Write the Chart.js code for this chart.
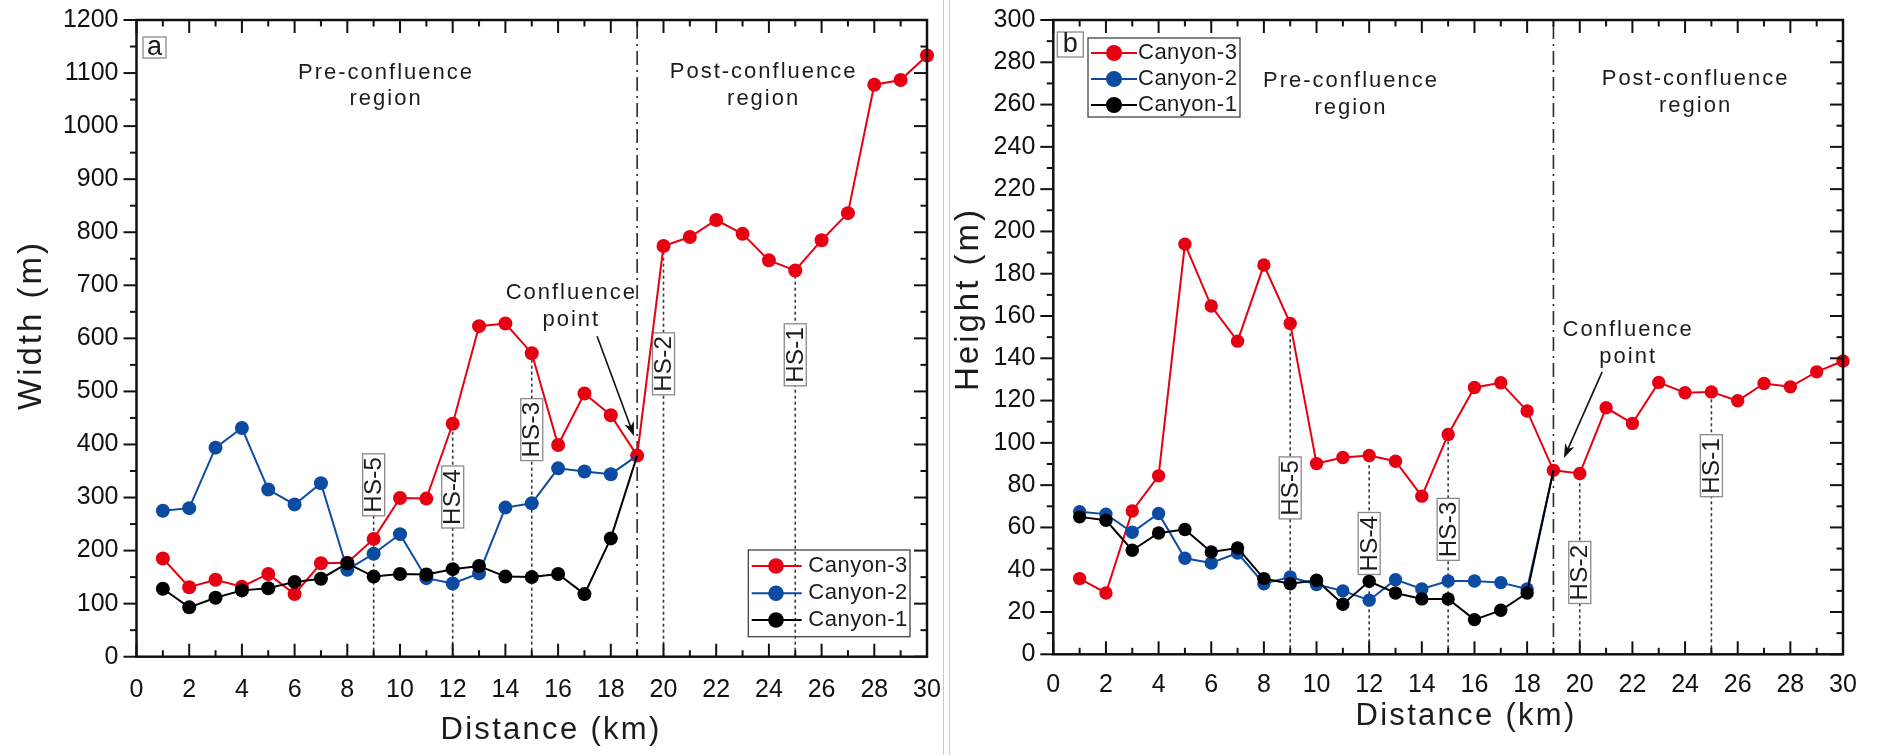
<!DOCTYPE html>
<html>
<head>
<meta charset="utf-8">
<script src="https://cdn.jsdelivr.net/npm/chart.js@4.4.1/dist/chart.umd.min.js"></script>
<style>
html, body { margin: 0; padding: 0; background: #fff; }
#wrap { position: relative; width: 1877px; height: 755px; overflow: hidden; }
#left { position: absolute; left: 0; top: 0; width: 940px; height: 755px; }
#right { position: absolute; left: 952px; top: 0; width: 925px; height: 755px; }
.sep { position: absolute; top: 0; width: 1px; height: 755px; background: #c9c9c9; }
</style>
</head>
<body>
<div id="wrap">
  <div id="left"><canvas id="chartA"></canvas></div>
  <div class="sep" style="left:943px"></div>
  <div class="sep" style="left:949px"></div>
  <div id="right"><canvas id="chartB"></canvas></div>
</div>
<script>
// distance along the canyons (km)
const distanceKm = [1,2,3,4,5,6,7,8,9,10,11,12,13,14,15,16,17,18,19,20,21,22,23,24,25,26,27,28,29,30];

// (a) width (m)
const widthCanyon3 = [185,131,145,132,156,118,176,177,222,299,298,439,623,628,572,399,496,455,379,774,791,823,797,747,728,785,836,1078,1087,1133];
const widthCanyon2 = [275,280,394,431,315,287,327,164,194,231,148,138,157,281,289,355,349,344,379];
const widthCanyon1 = [128,93,111,125,129,141,147,176,151,156,155,165,171,151,150,156,118,223,379];

// (b) height (m)
const heightCanyon3 = [35.8,29,67.8,84.4,194,164.7,148.1,184.1,156.5,90.2,93.1,94,91.3,74.8,104,126.2,128.4,115.1,87,85.5,116.6,109.2,128.6,123.7,124.1,119.9,128.1,126.5,133.6,138.7];
const heightCanyon2 = [67.4,66.3,57.7,66.6,45.4,43.2,47.9,33.4,36.6,33,30,25.6,35.3,30.9,34.7,34.7,33.9,30.9,87];
const heightCanyon1 = [65,63.4,49.2,57.4,59,48.4,50.3,35.8,33.4,35,23.7,34.5,29,26.2,26.2,16.4,20.8,29,87];

const seriesNames = ['Canyon-3', 'Canyon-2', 'Canyon-1'];
const seriesColors = ['#e60012', '#0b4ca2', '#000000'];

// cross sections and the confluence point
const sectionNames = ['HS-5', 'HS-4', 'HS-3', 'HS-2', 'HS-1'];
const sectionKm = [9, 12, 15, 20, 25];
const confluenceKm = 19;

const FONT = "'Liberation Sans', Arial, sans-serif";
const INK = '#1c1c1c';

function pts(vals) {
  return vals.map((v, i) => ({ x: distanceKm[i], y: v }));
}

function dataset(i, vals, r) {
  return {
    label: seriesNames[i],
    data: pts(vals),
    borderColor: seriesColors[i],
    backgroundColor: seriesColors[i],
    pointBackgroundColor: seriesColors[i],
    pointBorderColor: seriesColors[i],
    borderWidth: 2,
    pointBorderWidth: 0,
    // the tributaries end at the confluence point, which keeps only the red marker
    pointRadius: c => (i > 0 && c.dataIndex === vals.length - 1) ? 0 : r,
    pointHoverRadius: r,
    tension: 0,
    clip: false,
    order: 3 - i
  };
}

function text(ctx, s, x, y, size, spacing, align, rot) {
  ctx.save();
  ctx.font = size + 'px ' + FONT;
  ctx.letterSpacing = (spacing || 0) + 'px';
  ctx.fillStyle = INK;
  ctx.textAlign = align || 'center';
  ctx.textBaseline = 'middle';
  ctx.translate(x, y);
  if (rot) ctx.rotate(rot);
  ctx.fillText(s, 0, 0);
  ctx.restore();
}

function seg(ctx, x1, y1, x2, y2) {
  ctx.beginPath();
  ctx.moveTo(x1, y1);
  ctx.lineTo(x2, y2);
  ctx.stroke();
}

const decor = {
  id: 'decor',
  beforeDatasetsDraw(chart) {
    const o = chart.options.plugins.decor;
    const { ctx, chartArea: a, scales: { x, y } } = chart;
    ctx.save();
    // confluence line (dash-dot)
    const cx = x.getPixelForValue(confluenceKm);
    ctx.strokeStyle = '#2a2a2a';
    ctx.lineWidth = 1.6;
    ctx.setLineDash([14, 5, 2, 5]);
    seg(ctx, cx, a.top + 5, cx, a.bottom);
    // cross-section markers
    sectionKm.forEach((km, i) => {
      const px = x.getPixelForValue(km);
      const top = Math.max(o.main[km - 1], o.hsBox[i]);
      ctx.strokeStyle = '#383838';
      ctx.lineWidth = 1.6;
      ctx.setLineDash([3, 3]);
      seg(ctx, px, a.bottom, px, y.getPixelForValue(top));
      ctx.setLineDash([]);
      const cy = y.getPixelForValue(o.hsBox[i]);
      ctx.fillStyle = '#fff';
      ctx.strokeStyle = '#8a8a8a';
      ctx.lineWidth = 1.3;
      ctx.fillRect(px - 11, cy - 31, 22, 62);
      ctx.strokeRect(px - 11, cy - 31, 22, 62);
      text(ctx, sectionNames[i], px + 1, cy, 24, 0.3, 'center', -Math.PI / 2);
    });
    ctx.restore();
  },
  afterDraw(chart) {
    const o = chart.options.plugins.decor;
    const { ctx, chartArea: a, scales: { x, y } } = chart;
    ctx.save();
    ctx.strokeStyle = '#111';
    ctx.lineCap = 'butt';
    ctx.lineWidth = 2;
    // tick marks: left side outward, other sides inward
    for (let v = 0; v <= 30; v += 1) {
      const px = x.getPixelForValue(v);
      const len = v % 2 === 0 ? 13 : 6.5;
      seg(ctx, px, a.bottom, px, a.bottom - len);
      seg(ctx, px, a.top, px, a.top + len);
    }
    for (let v = 0; v <= o.yMax; v += o.yMinor) {
      const py = y.getPixelForValue(v);
      const len = v % o.yMajor === 0 ? 13 : 6.5;
      seg(ctx, a.left, py, a.left - len, py);
      seg(ctx, a.right, py, a.right - len, py);
    }
    ctx.lineWidth = 2.5;
    ctx.strokeRect(a.left, a.top, a.right - a.left, a.bottom - a.top);

    // region and confluence texts
    o.notes.forEach(n => {
      const px = x.getPixelForValue(n.x);
      const py = y.getPixelForValue(n.y);
      n.lines.forEach((s, k) => text(ctx, s, px, py + k * n.lh, 22, 2, 'center'));
    });

    // arrow
    const ax1 = x.getPixelForValue(o.arrow[0]), ay1 = y.getPixelForValue(o.arrow[1]);
    const ax2 = x.getPixelForValue(o.arrow[2]), ay2 = y.getPixelForValue(o.arrow[3]);
    const ang = Math.atan2(ay2 - ay1, ax2 - ax1);
    ctx.strokeStyle = '#111';
    ctx.fillStyle = '#111';
    ctx.lineWidth = 1.6;
    seg(ctx, ax1, ay1, ax2 - 8 * Math.cos(ang), ay2 - 8 * Math.sin(ang));
    ctx.beginPath();
    ctx.moveTo(ax2, ay2);
    ctx.lineTo(ax2 - 14 * Math.cos(ang) + 5 * Math.sin(ang), ay2 - 14 * Math.sin(ang) - 5 * Math.cos(ang));
    ctx.lineTo(ax2 - 10 * Math.cos(ang), ay2 - 10 * Math.sin(ang));
    ctx.lineTo(ax2 - 14 * Math.cos(ang) - 5 * Math.sin(ang), ay2 - 14 * Math.sin(ang) + 5 * Math.cos(ang));
    ctx.closePath();
    ctx.fill();

    // panel tag
    const t = o.tag;
    ctx.strokeStyle = '#8a8a8a';
    ctx.lineWidth = 1.3;
    ctx.strokeRect(a.left + t.dx, a.top + t.dy, t.w, t.h);
    text(ctx, t.s, a.left + t.dx + t.w / 2, a.top + t.dy + t.h / 2, t.size, 0, 'center');

    // legend
    const L = o.legend;
    ctx.strokeStyle = '#444';
    ctx.lineWidth = 1.3;
    ctx.strokeRect(L.box[0], L.box[1], L.box[2], L.box[3]);
    seriesNames.forEach((s, i) => {
      const ry = L.rows[i];
      ctx.strokeStyle = seriesColors[i];
      ctx.lineWidth = 2;
      seg(ctx, L.line[0], ry, L.line[1], ry);
      ctx.fillStyle = seriesColors[i];
      ctx.beginPath();
      ctx.arc(L.mark, ry, L.r, 0, Math.PI * 2);
      ctx.fill();
      text(ctx, s, L.text, ry, 22, 0.5, 'left');
    });

    // axis titles
    text(ctx, 'Distance (km)', o.xTitle[0], o.xTitle[1], 31, 2.3, 'center');
    text(ctx, o.yName, o.yTitle[0], o.yTitle[1], 33, 3, 'center', -Math.PI / 2);
    ctx.restore();
  }
};

function build(id, sets, r, yMax, yStep, lay, deco) {
  return new Chart(document.getElementById(id), {
    type: 'line',
    data: { datasets: sets.map((v, i) => dataset(i, v, r)) },
    options: {
      responsive: true,
      maintainAspectRatio: false,
      animation: false,
      events: [],
      layout: { padding: { top: 20, right: lay.right, left: 0, bottom: 0 } },
      scales: {
        x: {
          type: 'linear', min: 0, max: 30,
          ticks: { stepSize: 2, color: '#111', padding: lay.xPad, font: { family: FONT, size: 25 }, callback: v => String(v) },
          grid: { display: false },
          border: { display: false },
          afterFit: s => { s.height = lay.xH; s.paddingLeft = 0; s.paddingRight = 0; }
        },
        y: {
          type: 'linear', min: 0, max: yMax,
          ticks: { stepSize: yStep, color: '#111', padding: lay.yPad, font: { family: FONT, size: 25 }, callback: v => String(v) },
          grid: { display: false },
          border: { display: false },
          afterFit: s => { s.width = lay.yW; s.paddingTop = 0; s.paddingBottom = 0; }
        }
      },
      plugins: {
        legend: { display: false },
        tooltip: { enabled: false },
        decor: deco
      }
    },
    plugins: [decor]
  });
}

build('chartA', [widthCanyon3, widthCanyon2, widthCanyon1], 7, 1200, 100,
  { right: 13, xH: 98.3, yW: 136.5, xPad: 10, yPad: 10 },
  {
    main: widthCanyon3, yMax: 1200, yMajor: 100, yMinor: 50,
    hsBox: [324, 301, 428, 552, 569],
    notes: [
      { x: 9.47, y: 1100, lh: 26, lines: ['Pre-confluence', 'region'] },
      { x: 23.8, y: 1102, lh: 27, lines: ['Post-confluence', 'region'] },
      { x: 16.5, y: 685, lh: 27, lines: ['Confluence', 'point'] }
    ],
    arrow: [17.48, 604, 18.88, 416],
    tag: { s: 'a', dx: 6.5, dy: 17, w: 23, h: 21, size: 27 },
    legend: { box: [748.3, 550, 161.7, 86.7], rows: [566, 593.3, 620], line: [751.7, 801.7], mark: 776, r: 7.8, text: 808.3 },
    xTitle: [551, 730], yTitle: [32, 325], yName: 'Width (m)'
  });

build('chartB', [heightCanyon3, heightCanyon2, heightCanyon1], 6.7, 300, 20,
  { right: 34, xH: 100.7, yW: 101.3, xPad: 8, yPad: 10 },
  {
    main: heightCanyon3, yMax: 300, yMajor: 20, yMinor: 10,
    hsBox: [78.7, 52.4, 59.1, 38.7, 89.2],
    notes: [
      { x: 11.31, y: 271.2, lh: 27, lines: ['Pre-confluence', 'region'] },
      { x: 24.4, y: 272.2, lh: 27, lines: ['Post-confluence', 'region'] },
      { x: 21.84, y: 153.4, lh: 27, lines: ['Confluence', 'point'] }
    ],
    arrow: [20.85, 133.6, 19.4, 92.9],
    tag: { s: 'b', dx: 4, dy: 12, w: 26, h: 25, size: 27 },
    legend: { box: [136, 38, 152, 79], rows: [53, 79, 105], line: [139, 185], mark: 162, r: 8, text: 186 },
    xTitle: [514, 716], yTitle: [17, 299], yName: 'Height (m)'
  });
</script>
</body>
</html>
